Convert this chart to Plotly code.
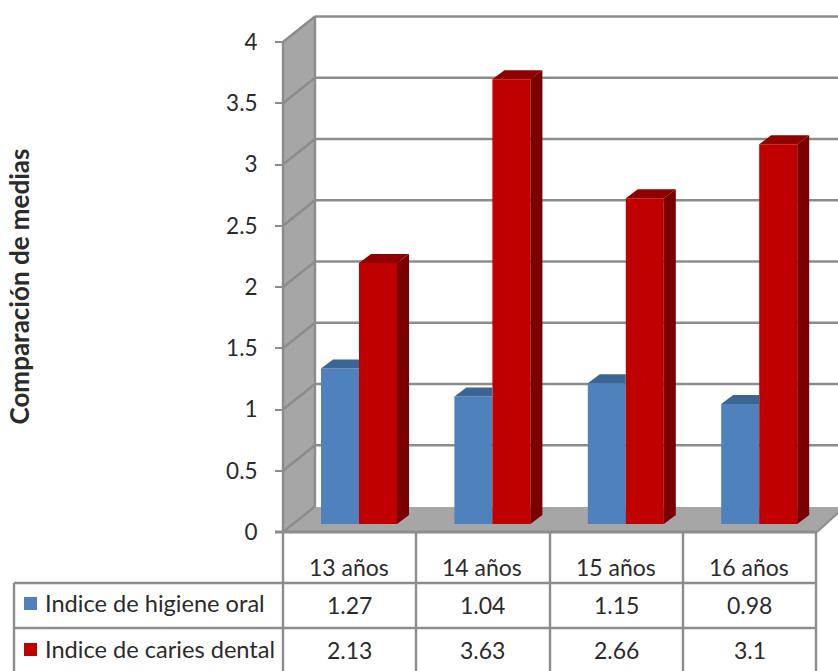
import plotly.graph_objects as go

# Chart data
categories = ["13 años", "14 años", "15 años", "16 años"]
higiene_oral = [1.27, 1.04, 1.15, 0.98]
caries_dental = [2.13, 3.63, 2.66, 3.1]
series_names = ["Indice de higiene oral", "Indice de caries dental"]
value_ticks = [0, 0.5, 1, 1.5, 2, 2.5, 3, 3.5, 4]
value_tick_labels = ["0", "0.5", "1", "1.5", "2", "2.5", "3", "3.5", "4"]

W, H = 838, 671
FONT = "Lato, 'Open Sans', sans-serif"
TEXT = "#2b2b2b"
GRID = "#8c8c8c"
WALL = "#a6a6a6"
BLUE, BLUE_TOP = "#4f81bd", "#3b6595"
RED, RED_TOP, RED_SIDE = "#c00000", "#900000", "#7a0000"

# Scales: one category step and one value unit, in screen pixels
CAT_PX, UNIT_PX = 133.4, 122.5
CAT0_PX, BAR_BASE_PX = 349.5, 524.0
AXIS_ZERO_PX = 532.0

BAR_W = 38 / CAT_PX
DEPTH_X, DEPTH_Y = 12 / CAT_PX, 9 / UNIT_PX


def dx(px):
    return (px - CAT0_PX) / CAT_PX


def dy(py):
    return (BAR_BASE_PX - py) / UNIT_PX


def poly(points, **kw):
    path = "M" + " L".join(f"{dx(x)},{dy(y)}" for x, y in points) + " Z"
    return dict(type="path", path=path, xref="x", yref="y", layer="below", line_width=0, **kw)


def seg(x0, y0, x1, y1, width=2.6, color=GRID):
    return dict(type="line", xref="x", yref="y", layer="below",
                x0=dx(x0), y0=dy(y0), x1=dx(x1), y1=dy(y1),
                line=dict(color=color, width=width))


shapes = [
    # Side wall and floor
    poly([(283, 532), (283, 42), (315, 16), (315, 507)], fillcolor=WALL),
    poly([(283, 532), (315, 507), (860, 507), (838, 514), (816, 532)], fillcolor=WALL),
]
# Gridlines wrap from the side wall onto the back wall
for v in value_ticks:
    front = AXIS_ZERO_PX - v * UNIT_PX
    back = front - 25.5
    shapes.append(seg(283, front, 315, back))
    if v > 0:
        shapes.append(seg(315, back, 838, back))
shapes += [
    seg(283, 42, 283, 532, 2.4),
    seg(315, 16, 315, 507, 2.4),
    seg(275, 532, 817, 532, 3),
    seg(817, 532, 838, 513, 2),
]
# Data table rules
for x in (283, 416, 550, 683, 816):
    shapes.append(seg(x, 532, x, 671, 2.4))
shapes.append(seg(14, 583, 816, 583, 2.4))
shapes.append(seg(14, 628, 816, 628, 2.4))
shapes.append(seg(14, 583, 14, 671, 2.4))
# Legend keys inside the table
shapes.append(poly([(24, 597), (37, 597), (37, 610), (24, 610)], fillcolor=BLUE))
shapes.append(poly([(24, 643), (37, 643), (37, 656), (24, 656)], fillcolor=RED))

fig = go.Figure()

# Front faces of the bars
left_offset = -28.5 / CAT_PX
right_offset = 9.5 / CAT_PX
positions = list(range(len(categories)))
fig.add_bar(x=positions, y=higiene_oral, width=BAR_W, offset=left_offset,
            marker=dict(color=BLUE, line_width=0), name=series_names[0])
fig.add_bar(x=positions, y=caries_dental, width=BAR_W, offset=right_offset,
            marker=dict(color=RED, line_width=0), name=series_names[1])


def face(xs, ys, color):
    fig.add_scatter(x=xs, y=ys, mode="lines", fill="toself", fillcolor=color,
                    line=dict(width=0, color=color), hoverinfo="skip", showlegend=False)


# Top of the blue bars stops where the red front face begins
for i, v in zip(positions, higiene_oral):
    l = i + left_offset
    r = l + BAR_W
    face([l, r, r, l + DEPTH_X, l], [v, v, v + DEPTH_Y, v + DEPTH_Y, v], BLUE_TOP)

# Top and side faces of the red bars
for i, v in zip(positions, caries_dental):
    l = i + right_offset
    r = l + BAR_W
    face([l, r, r + DEPTH_X, l + DEPTH_X, l], [v, v, v + DEPTH_Y, v + DEPTH_Y, v], RED_TOP)
    face([r, r + DEPTH_X, r + DEPTH_X, r, r], [0, DEPTH_Y, v + DEPTH_Y, v, 0], RED_SIDE)

# Carries the value axis, whose zero sits on the front edge of the floor
fig.add_scatter(x=[0], y=[0], yaxis="y2", mode="markers", marker_opacity=0,
                hoverinfo="skip", showlegend=False)

annotations = [dict(
    text="<b>Comparación de medias</b>", textangle=-90, x=18.5 / W, y=1 - 287 / H,
    xref="paper", yref="paper", xanchor="center", yanchor="middle", showarrow=False,
    font=dict(family=FONT, size=26, color=TEXT))]


def cell(text, x, y, anchor="center"):
    annotations.append(dict(text=text, x=x, y=dy(y), xref="x", yref="y", showarrow=False,
                            xanchor=anchor, yanchor="middle",
                            font=dict(family=FONT, size=23, color=TEXT)))


for i, c in enumerate(categories):
    cell(c, i - 0.005, 567)
for i, v in enumerate(higiene_oral):
    cell(str(v), i, 605)
for i, v in enumerate(caries_dental):
    cell(str(v), i, 650)
annotations_start = len(annotations)
cell(series_names[0], dx(43), 603, "left")
cell(series_names[1], dx(43), 649, "left")
for a in annotations[annotations_start:]:
    a["font"]["size"] = 23.6

fig.update_layout(
    width=W, height=H, margin=dict(l=0, r=0, t=0, b=0, pad=0, autoexpand=False),
    paper_bgcolor="white", plot_bgcolor="white", showlegend=False,
    barmode="overlay", shapes=shapes, annotations=annotations,
    xaxis=dict(domain=[0, 1], range=[dx(0), dx(W)], visible=False, fixedrange=True),
    yaxis=dict(domain=[0, 1], range=[dy(H), dy(0)], visible=False, fixedrange=True),
    yaxis2=dict(
        overlaying="y", anchor="free", position=283 / W, side="left",
        range=[(AXIS_ZERO_PX - H) / UNIT_PX, AXIS_ZERO_PX / UNIT_PX],
        tickmode="array", tickvals=value_ticks, ticktext=value_tick_labels,
        ticks="outside", ticklen=8, tickwidth=2.4, tickcolor=GRID,
        ticklabelstandoff=13, showgrid=False, zeroline=False, showline=False,
        tickfont=dict(family=FONT, size=22.5, color=TEXT), fixedrange=True),
)

fig.write_html("out.html", config=dict(displayModeBar=False))
